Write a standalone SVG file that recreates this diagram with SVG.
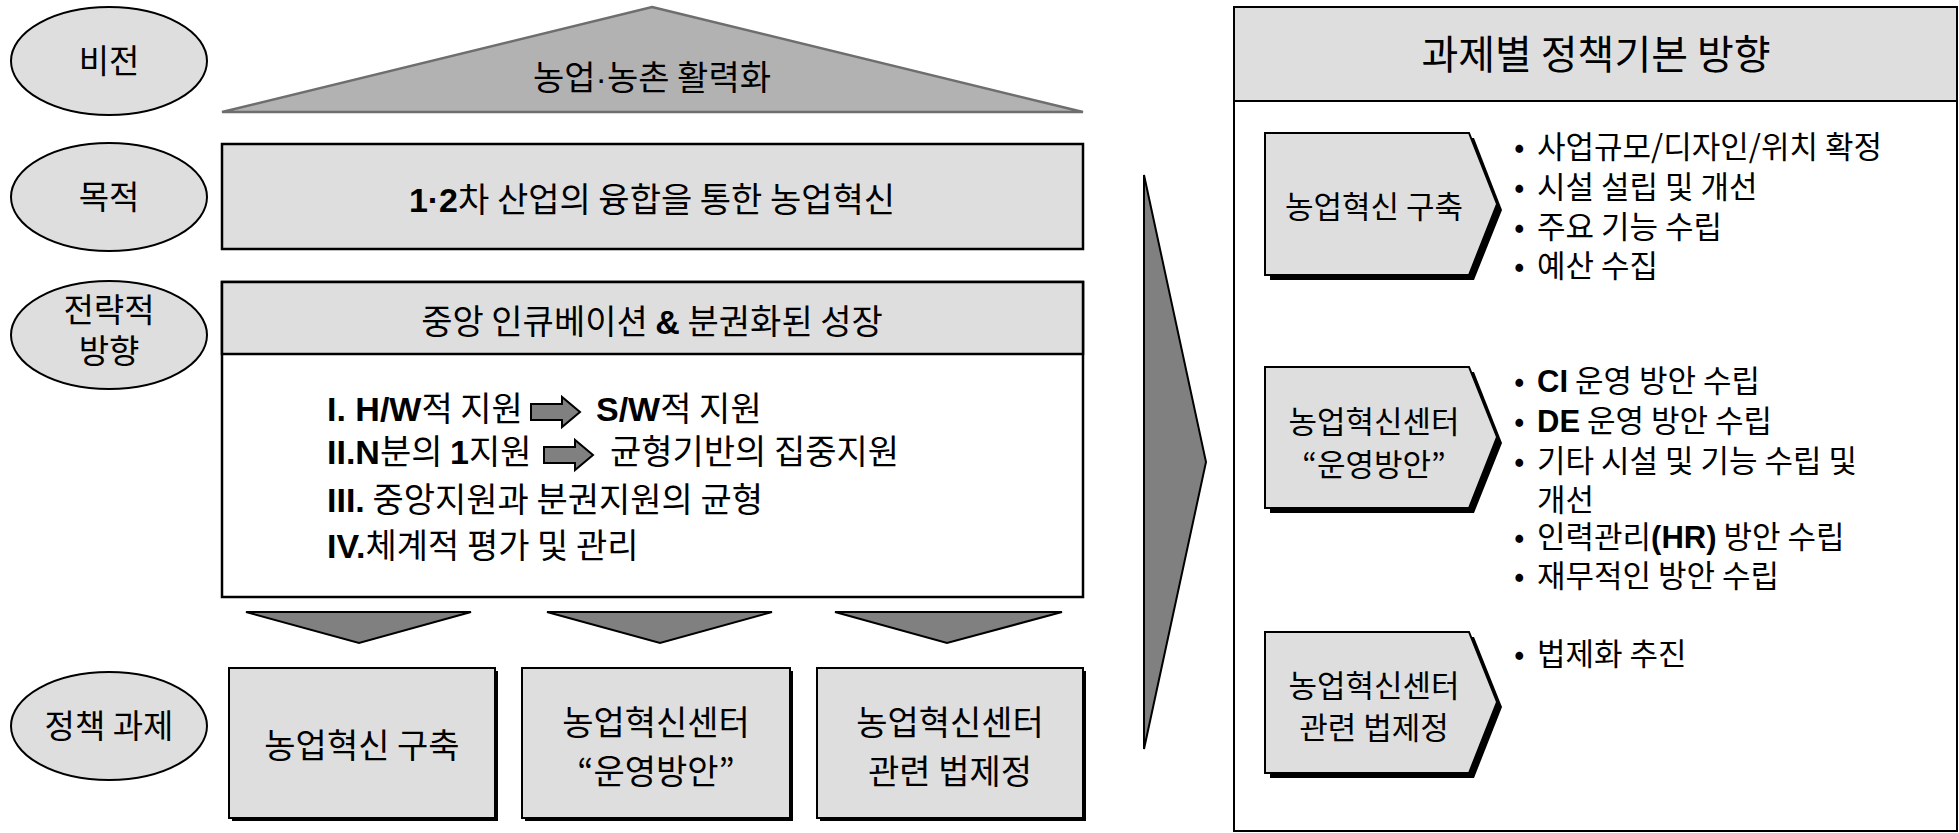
<svg xmlns="http://www.w3.org/2000/svg" width="1959" height="833" viewBox="0 0 1959 833">
<style>
text { font-family: "Noto Sans CJK KR", "Liberation Sans", sans-serif; fill: #000; }
.c { text-anchor: middle; }
.b { font-family: "Liberation Sans", "Noto Sans CJK KR", sans-serif; font-weight: bold; }
.l { font-family: "Liberation Sans", "Noto Sans CJK KR", sans-serif; }
.f33 { font-size: 33px; }
.f34 { font-size: 34px; }
.f31 { font-size: 31px; }
.lbl { fill: #dedede; stroke: #000; stroke-width: 2; }
.box { fill: #dedede; stroke: #000; stroke-width: 2.5; }
.shadow { fill: #000; }
.dark { fill: #808080; stroke: #000; stroke-width: 2; stroke-linejoin: miter; }
</style>
<rect width="1959" height="833" fill="#fff"/>

<g id="label-vision">
  <ellipse class="lbl" cx="109" cy="61" rx="98" ry="54"/>
  <text class="c f33" x="109" y="73">비전</text>
</g>
<g id="label-goal">
  <ellipse class="lbl" cx="109" cy="197" rx="98" ry="54"/>
  <text class="c f33" x="109" y="209">목적</text>
</g>
<g id="label-strategy">
  <ellipse class="lbl" cx="109" cy="335" rx="98" ry="54"/>
  <text class="c f33" x="109" y="322">전략적<tspan x="109" dy="41">방향</tspan></text>
</g>
<g id="label-policy">
  <ellipse class="lbl" cx="109" cy="726" rx="98" ry="54"/>
  <text class="c f33" x="109" y="738">정책 과제</text>
</g>

<g id="vision">
  <polygon points="652,7 1083,112 222,112" fill="#b2b2b2" stroke="#6e6e6e" stroke-width="2.5"/>
  <text class="c f34" x="652" y="90">농업<tspan class="l">·</tspan>농촌 활력화</text>
</g>

<g id="goal">
  <rect class="box" x="222" y="144" width="861" height="105"/>
  <text class="c f34" x="652" y="212"><tspan class="b">1·2</tspan>차 산업의 융합을 통한 농업혁신</text>
</g>

<g id="strategy">
  <rect x="222" y="282" width="861" height="315" fill="#fff" stroke="#000" stroke-width="2.5"/>
  <rect class="box" x="222" y="282" width="861" height="72"/>
  <text class="c f34" x="652" y="334">중앙 인큐베이션 <tspan class="b">&amp;</tspan> 분권화된 성장</text>
  <text class="f34" x="327" y="421"><tspan class="b">I. H/W</tspan>적 지원</text>
  <polygon class="dark" points="531,404 562,404 562,397 580,412 562,427 562,420 531,420"/>
  <text class="f34" x="596" y="421"><tspan class="b">S/W</tspan>적 지원</text>
  <text class="f34" x="327" y="464"><tspan class="b">II.N</tspan>분의 <tspan class="b">1</tspan>지원</text>
  <polygon class="dark" points="544,447 575,447 575,440 593,455 575,470 575,463 544,463"/>
  <text class="f34" x="610" y="464">균형기반의 집중지원</text>
  <text class="f34" x="327" y="512"><tspan class="b">III.</tspan> 중앙지원과 분권지원의 균형</text>
  <text class="f34" x="327" y="558"><tspan class="b">IV.</tspan>체계적 평가 및 관리</text>
</g>

<g id="connectors">
  <polygon class="dark" points="246,612 471,612 359,643"/>
  <polygon class="dark" points="547,612 772,612 660,643"/>
  <polygon class="dark" points="835,612 1062,612 947,643"/>
  <polygon class="dark" points="1144,175 1206,462 1144,749"/>
</g>

<g id="task1">
  <rect class="shadow" x="232" y="671" width="266" height="150"/>
  <rect class="lbl" x="229" y="668" width="266" height="150"/>
  <text class="c f34" x="362" y="758">농업혁신 구축</text>
</g>
<g id="task2">
  <rect class="shadow" x="525" y="671" width="268" height="150"/>
  <rect class="lbl" x="522" y="668" width="268" height="150"/>
  <text class="c f34" x="656" y="735">농업혁신센터<tspan x="656" dy="49">“운영방안”</tspan></text>
</g>
<g id="task3">
  <rect class="shadow" x="820" y="671" width="266" height="150"/>
  <rect class="lbl" x="817" y="668" width="266" height="150"/>
  <text class="c f34" x="950" y="735">농업혁신센터<tspan x="950" dy="49">관련 법제정</tspan></text>
</g>

<g id="panel">
  <rect x="1234" y="7" width="723" height="824" fill="#fff" stroke="#000" stroke-width="2"/>
  <rect x="1234" y="7" width="723" height="94" fill="#dedede" stroke="#000" stroke-width="2"/>
  <text class="c" x="1596" y="69" font-size="40">과제별 정책기본 방향</text>
</g>

<g id="dir1">
  <polygon class="shadow" points="1270,138 1474,138 1502,210 1474,280 1270,280"/>
  <polygon class="lbl" points="1265,133 1469,133 1497,204 1469,275 1265,275"/>
  <text class="c f31" x="1374" y="218">농업혁신 구축</text>
  <text class="f31" x="1514" y="158">•<tspan x="1537">사업규모/디자인/위치 확정</tspan><tspan x="1514" dy="40">•</tspan><tspan x="1537">시설 설립 및 개선</tspan><tspan x="1514" dy="40">•</tspan><tspan x="1537">주요 기능 수립</tspan><tspan x="1514" dy="39">•</tspan><tspan x="1537">예산 수집</tspan></text>
</g>
<g id="dir2">
  <polygon class="shadow" points="1270,372 1474,372 1502,443 1474,513 1270,513"/>
  <polygon class="lbl" points="1265,367 1469,367 1497,437 1469,508 1265,508"/>
  <text class="c f31" x="1374" y="433">농업혁신센터<tspan x="1374" dy="43">“운영방안”</tspan></text>
  <text class="f31" x="1514" y="392">•<tspan x="1537"><tspan class="b">CI</tspan> 운영 방안 수립</tspan><tspan x="1514" dy="40">•</tspan><tspan x="1537"><tspan class="b">DE</tspan> 운영 방안 수립</tspan><tspan x="1514" dy="40">•</tspan><tspan x="1537">기타 시설 및 기능 수립 및</tspan><tspan x="1537" dy="39">개선</tspan><tspan x="1514" dy="37">•</tspan><tspan x="1537">인력관리<tspan class="b">(HR)</tspan> 방안 수립</tspan><tspan x="1514" dy="39">•</tspan><tspan x="1537">재무적인 방안 수립</tspan></text>
</g>
<g id="dir3">
  <polygon class="shadow" points="1270,637 1474,637 1502,707 1474,778 1270,778"/>
  <polygon class="lbl" points="1265,632 1469,632 1497,702 1469,773 1265,773"/>
  <text class="c f31" x="1374" y="697">농업혁신센터<tspan x="1374" dy="42">관련 법제정</tspan></text>
  <text class="f31" x="1514" y="665">•<tspan x="1537">법제화 추진</tspan></text>
</g>
</svg>
